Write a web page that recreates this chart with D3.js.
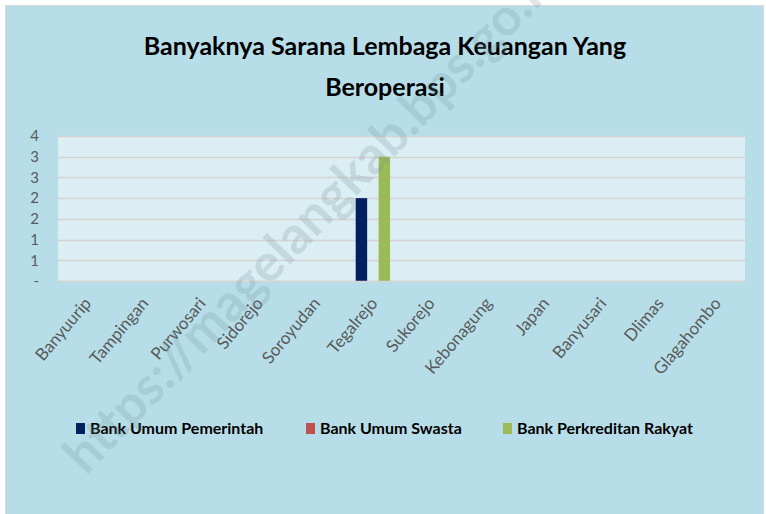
<!DOCTYPE html>
<html>
<head>
<meta charset="utf-8">
<script src="https://cdn.jsdelivr.net/npm/d3@7"></script>
<style>
	body { margin: 0; background: #ffffff; }
	svg { display: block; }
</style>
</head>
<body>
<script>
// data
var kecamatan = ["Banyuurip", "Tampingan", "Purwosari", "Sidorejo", "Soroyudan", "Tegalrejo",
	"Sukorejo", "Kebonagung", "Japan", "Banyusari", "Dlimas", "Glagahombo"];
var seriesNames = ["Bank Umum Pemerintah", "Bank Umum Swasta", "Bank Perkreditan Rakyat"];
var bankPemerintah = [0, 0, 0, 0, 0, 2, 0, 0, 0, 0, 0, 0];
var bankSwasta     = [0, 0, 0, 0, 0, 0, 0, 0, 0, 0, 0, 0];
var bankBPR        = [0, 0, 0, 0, 0, 3, 0, 0, 0, 0, 0, 0];
var yTicks = [0, 0.5, 1, 1.5, 2, 2.5, 3, 3.5];
var colors = ["#002060", "#c0504d", "#9bbb59"];

var W = 766, H = 514;
var fontMain = "Lato, 'Open Sans', sans-serif";

var svg = d3.select("body")
	.append("svg")
	.attr("width", W)
	.attr("height", H);

// fondo del grafico
svg.append("rect")
	.attr("x", 5.5).attr("y", 5.5)
	.attr("width", 758).attr("height", 515)
	.attr("fill", "#b7dee8")
	.attr("stroke", "#d9d9d9")
	.attr("stroke-width", 1);

var plot = { left: 58, right: 745, top: 136, bottom: 281 };

var x = d3.scaleBand()
	.domain(kecamatan)
	.range([plot.left, plot.right]);

var xSub = d3.scaleBand()
	.domain(seriesNames)
	.range([0, x.bandwidth()])
	.paddingOuter(1);

var y = d3.scaleLinear()
	.domain([0, 3.5])
	.range([plot.bottom, plot.top]);

// area del plot
svg.append("rect")
	.attr("x", plot.left).attr("y", plot.top)
	.attr("width", plot.right - plot.left)
	.attr("height", plot.bottom - plot.top)
	.attr("fill", "#daeef3");

// lineas de grilla
svg.selectAll("line.grid")
	.data(yTicks)
	.enter()
	.append("line")
	.attr("class", "grid")
	.attr("x1", plot.left).attr("x2", plot.right)
	.attr("y1", function(d){ return Math.round(y(d)) + 0.5; })
	.attr("y2", function(d){ return Math.round(y(d)) + 0.5; })
	.attr("stroke", "#d6d2d4")
	.attr("stroke-width", 1.5);

// eje y
var yAxis = d3.axisLeft(y)
	.tickValues(yTicks)
	.tickSize(0)
	.tickPadding(0)
	.tickFormat(function(d){ return d === 0 ? "-" : d3.format(".0f")(Math.round(d)); });

var gy = svg.append("g")
	.attr("transform", "translate(39,0)")
	.call(yAxis);
gy.select(".domain").remove();
gy.selectAll("text")
	.attr("font-family", fontMain)
	.attr("font-size", 15)
	.attr("fill", "#595959");

// barras
var table = kecamatan.map(function(k, i){
	return { name: k, values: [bankPemerintah[i], bankSwasta[i], bankBPR[i]] };
});

var groups = svg.selectAll("g.grupo")
	.data(table)
	.enter()
	.append("g")
	.attr("class", "grupo")
	.attr("transform", function(d){ return "translate(" + x(d.name) + ",0)"; });

groups.selectAll("rect")
	.data(function(d){ return d.values.map(function(v, j){ return { serie: seriesNames[j], value: v, j: j }; }); })
	.enter()
	.append("rect")
	.attr("x", function(d){ return xSub(d.serie); })
	.attr("width", xSub.bandwidth())
	.attr("y", function(d){ return y(d.value); })
	.attr("height", function(d){ return y(0) - y(d.value); })
	.attr("fill", function(d){ return colors[d.j]; });

// eje x
var xAxis = d3.axisBottom(x).tickSize(0).tickPadding(0);
var gx = svg.append("g")
	.attr("transform", "translate(0," + plot.bottom + ")")
	.call(xAxis);
gx.select(".domain")
	.attr("stroke", "#d6d2d4")
	.attr("stroke-width", 1.5);
gx.selectAll("text")
	.attr("font-family", fontMain)
	.attr("font-size", 17)
	.attr("fill", "#595959")
	.attr("text-anchor", "end")
	.attr("dy", "0.35em")
	.attr("transform", "translate(1,19) rotate(-50)");

// titulo
var title = svg.append("text")
	.attr("text-anchor", "middle")
	.attr("font-family", fontMain)
	.attr("font-weight", "bold")
	.attr("font-size", 25)
	.attr("fill", "#000000");
title.append("tspan").attr("x", 385).attr("y", 55).text("Banyaknya Sarana Lembaga Keuangan Yang");
title.append("tspan").attr("x", 385).attr("y", 96).text("Beroperasi");

// leyenda
var legendX = [76, 306, 503];
var legend = svg.selectAll("g.leyenda")
	.data(seriesNames)
	.enter()
	.append("g")
	.attr("class", "leyenda")
	.attr("transform", function(d, i){ return "translate(" + legendX[i] + ",423)"; });

legend.append("rect")
	.attr("width", 9).attr("height", 11)
	.attr("fill", function(d, i){ return colors[i]; });

legend.append("text")
	.attr("x", 14).attr("y", 11)
	.attr("font-family", fontMain)
	.attr("font-weight", "bold")
	.attr("font-size", 16)
	.attr("fill", "#000000")
	.text(function(d){ return d; });

// marca de agua
svg.append("text")
	.attr("transform", "translate(86,476) rotate(-46)")
	.attr("font-family", fontMain)
	.attr("font-weight", "bold")
	.attr("font-size", 52)
	.attr("fill", "#6f8f99")
	.attr("opacity", 0.22)
	.text("https://magelangkab.bps.go.id");
</script>
</body>
</html>
